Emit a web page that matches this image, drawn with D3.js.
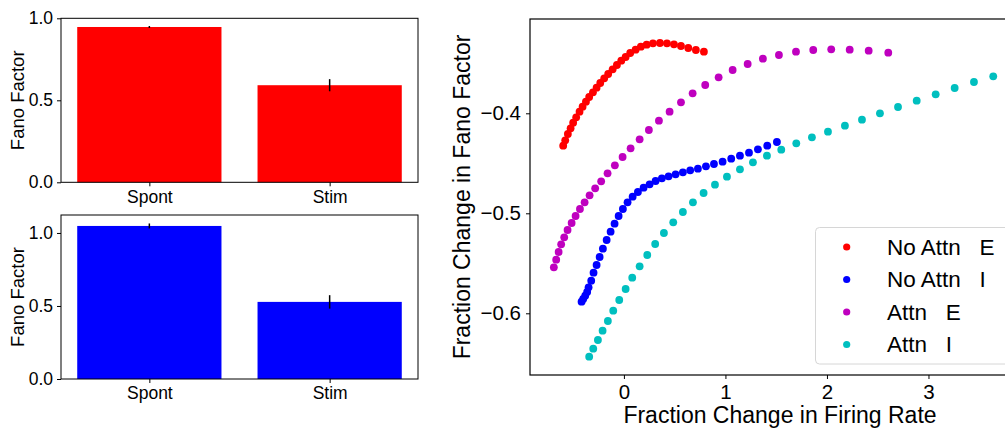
<!DOCTYPE html>
<html>
<head>
<meta charset="utf-8">
<script src="https://cdn.jsdelivr.net/npm/d3@7"></script>
<style>
  html, body { margin: 0; padding: 0; background: #fff; }
  svg { display: block; }
  text { font-family: "Liberation Sans", Arial, sans-serif; fill: #000; }
  .legend-text { white-space: pre; }
</style>
</head>
<body>
<svg id="chart" width="1005" height="428"></svg>
<script>
// ---- Bar panels: Fano factor for spontaneous vs stimulus-driven activity ----
const conditions = ["Spont", "Stim"];
const fanoE = [0.947, 0.592];
const fanoEErr = [0.006, 0.037];
const fanoI = [1.048, 0.528];
const fanoIErr = [0.017, 0.046];
const barTicksE = [0.0, 0.5, 1.0];
const barTicksI = [0.0, 0.5, 1.0];

// ---- Scatter panel: fraction change in firing rate vs fraction change in Fano factor ----
const seriesNames = ["No Attn   E", "No Attn   I", "Attn   E", "Attn   I"];
const seriesColors = ["#ff0000", "#0000ff", "#bf00bf", "#00bfbf"];

const noAttnE_rate = [-0.598, -0.578, -0.552, -0.525, -0.500, -0.470, -0.437, -0.407, -0.374, -0.342,
  -0.305, -0.269, -0.233, -0.194, -0.155, -0.111, -0.069, -0.026, 0.017, 0.062,
  0.115, 0.167, 0.224, 0.286, 0.355, 0.424, 0.493, 0.562, 0.634, 0.709, 0.788];
const noAttnE_fano = [-0.4324, -0.4270, -0.4207, -0.4150, -0.4094, -0.4040, -0.3984, -0.3934, -0.3884, -0.3837,
  -0.3790, -0.3744, -0.3697, -0.3650, -0.3607, -0.3560, -0.3517, -0.3474, -0.3437, -0.3397,
  -0.3364, -0.3334, -0.3314, -0.3300, -0.3297, -0.3300, -0.3310, -0.3327, -0.3347, -0.3367, -0.3384];

const noAttnI_rate = [-0.417, -0.401, -0.381, -0.362, -0.348, -0.322, -0.299, -0.269, -0.239, -0.207,
  -0.170, -0.131, -0.092, -0.052, -0.010, 0.036, 0.086, 0.138, 0.194, 0.253,
  0.312, 0.374, 0.440, 0.509, 0.581, 0.653, 0.729, 0.808, 0.887, 0.972,
  1.057, 1.143, 1.232, 1.320, 1.412, 1.507];
const noAttnI_fano = [-0.5884, -0.5857, -0.5824, -0.5787, -0.5740, -0.5674, -0.5594, -0.5517, -0.5437, -0.5354,
  -0.5267, -0.5184, -0.5104, -0.5027, -0.4957, -0.4890, -0.4834, -0.4787, -0.4744, -0.4710,
  -0.4677, -0.4650, -0.4630, -0.4610, -0.4590, -0.4570, -0.4554, -0.4530, -0.4507, -0.4484,
  -0.4454, -0.4424, -0.4394, -0.4360, -0.4324, -0.4287];

const attnE_rate = [-0.690, -0.667, -0.643, -0.618, -0.588, -0.555, -0.515, -0.476, -0.433, -0.387,
  -0.338, -0.283, -0.224, -0.161, -0.089, -0.013, 0.066, 0.155, 0.246, 0.345,
  0.450, 0.562, 0.677, 0.801, 0.933, 1.071, 1.219, 1.369, 1.527, 1.695,
  1.865, 2.042, 2.224, 2.411, 2.604];
const attnE_fano = [-0.5540, -0.5464, -0.5387, -0.5310, -0.5240, -0.5167, -0.5097, -0.5027, -0.4957, -0.4890,
  -0.4820, -0.4750, -0.4680, -0.4600, -0.4520, -0.4437, -0.4350, -0.4260, -0.4167, -0.4074,
  -0.3984, -0.3890, -0.3800, -0.3717, -0.3640, -0.3567, -0.3507, -0.3454, -0.3417, -0.3384,
  -0.3367, -0.3360, -0.3364, -0.3374, -0.3394];

const attnI_rate = [-0.342, -0.302, -0.256, -0.210, -0.158, -0.105, -0.046, 0.017, 0.082, 0.155,
  0.230, 0.308, 0.394, 0.486, 0.581, 0.680, 0.785, 0.897, 1.015, 1.143,
  1.271, 1.409, 1.550, 1.698, 1.852, 2.010, 2.177, 2.345, 2.522, 2.700,
  2.884, 3.071, 3.258, 3.448, 3.638];
const attnI_fano = [-0.6434, -0.6354, -0.6267, -0.6174, -0.6077, -0.5974, -0.5867, -0.5757, -0.5644, -0.5530,
  -0.5417, -0.5307, -0.5197, -0.5090, -0.4987, -0.4890, -0.4797, -0.4714, -0.4634, -0.4560,
  -0.4490, -0.4424, -0.4364, -0.4300, -0.4240, -0.4184, -0.4124, -0.4064, -0.4000, -0.3937,
  -0.3874, -0.3810, -0.3747, -0.3687, -0.3630];

const scatterXTicks = [0, 1, 2, 3];
const scatterYTicks = [-0.6, -0.5, -0.4];

const svg = d3.select("#chart");
svg.append("rect").attr("width", 1005).attr("height", 428).attr("fill", "#fff");

const minus = s => s.replace("-", "\u2212");

// Draw one bar panel with error bars
function barPanel(values, errs, yMax, yTicks, color, box) {
  const g = svg.append("g");
  const x = d3.scaleLinear().domain([-0.49, 1.49]).range([box.left, box.right]);
  const y = d3.scaleLinear().domain([0, yMax]).range([box.bottom, box.top]);
  const bw = x(0.8) - x(0);

  g.selectAll("rect.bar").data(values).join("rect")
    .attr("class", "bar")
    .attr("x", (d, i) => x(i) - bw / 2)
    .attr("width", bw)
    .attr("y", d => y(d))
    .attr("height", d => y(0) - y(d))
    .attr("fill", color);

  g.selectAll("line.err").data(values).join("line")
    .attr("class", "err")
    .attr("x1", (d, i) => x(i)).attr("x2", (d, i) => x(i))
    .attr("y1", (d, i) => y(d - errs[i])).attr("y2", (d, i) => y(d + errs[i]))
    .attr("stroke", "#000").attr("stroke-width", 1.5);

  // frame
  g.append("rect")
    .attr("x", box.left).attr("y", box.top)
    .attr("width", box.right - box.left).attr("height", box.bottom - box.top)
    .attr("fill", "none").attr("stroke", "#000").attr("stroke-width", 1);

  const yAxis = d3.axisLeft(y).tickValues(yTicks).tickFormat(d3.format(".1f"))
    .tickSizeInner(4).tickSizeOuter(0).tickPadding(4);
  const ya = g.append("g").attr("transform", `translate(${box.left},0)`).call(yAxis);
  ya.select(".domain").remove();
  ya.selectAll("text").attr("font-size", 17.5).attr("font-family", "Liberation Sans, Arial, sans-serif");

  const xAxis = d3.axisBottom(x).tickValues([0, 1]).tickFormat(i => conditions[i])
    .tickSizeInner(4).tickSizeOuter(0).tickPadding(4);
  const xa = g.append("g").attr("transform", `translate(0,${box.bottom})`).call(xAxis);
  xa.select(".domain").remove();
  xa.selectAll("text").attr("font-size", 17.5).attr("font-family", "Liberation Sans, Arial, sans-serif");

  g.append("text")
    .attr("transform", `translate(24,${(box.top + box.bottom) / 2}) rotate(-90)`)
    .attr("text-anchor", "middle")
    .attr("font-size", 18.5)
    .text("Fano Factor");
}

barPanel(fanoE, fanoEErr, 1.0, barTicksE, "#ff0000", { left: 61, right: 418, top: 18.3, bottom: 182.3 });
barPanel(fanoI, fanoIErr, 1.123, barTicksI, "#0000ff", { left: 61, right: 418, top: 215, bottom: 379 });

// ---- Scatter panel ----
const sBox = { left: 530, right: 1030, top: 19, bottom: 375 };
const sx = d3.scaleLinear().domain([-0.925, 4.0]).range([sBox.left, sBox.right]);
const sy = d3.scaleLinear().domain([-0.6617, -0.3057]).range([sBox.bottom, sBox.top]);

const series = [
  { rate: noAttnE_rate, fano: noAttnE_fano },
  { rate: noAttnI_rate, fano: noAttnI_fano },
  { rate: attnE_rate, fano: attnE_fano },
  { rate: attnI_rate, fano: attnI_fano }
];

const sg = svg.append("g");
series.forEach((s, k) => {
  sg.append("g").selectAll("circle")
    .data(s.rate.map((r, i) => [r, s.fano[i]]))
    .join("circle")
    .attr("cx", d => sx(d[0]))
    .attr("cy", d => sy(d[1]))
    .attr("r", 3.9)
    .attr("fill", seriesColors[k]);
});

sg.append("rect")
  .attr("x", sBox.left).attr("y", sBox.top)
  .attr("width", sBox.right - sBox.left).attr("height", sBox.bottom - sBox.top)
  .attr("fill", "none").attr("stroke", "#000").attr("stroke-width", 1.2);

const sxa = sg.append("g").attr("transform", `translate(0,${sBox.bottom})`)
  .call(d3.axisBottom(sx).tickValues(scatterXTicks).tickFormat(d3.format("d"))
    .tickSizeInner(4).tickSizeOuter(0).tickPadding(5));
sxa.select(".domain").remove();
sxa.selectAll("text").attr("font-size", 20.5).attr("font-family", "Liberation Sans, Arial, sans-serif");

const sya = sg.append("g").attr("transform", `translate(${sBox.left},0)`)
  .call(d3.axisLeft(sy).tickValues(scatterYTicks).tickFormat(d => minus(d3.format(".1f")(d)))
    .tickSizeInner(4).tickSizeOuter(0).tickPadding(5));
sya.select(".domain").remove();
sya.selectAll("text").attr("font-size", 20.5).attr("font-family", "Liberation Sans, Arial, sans-serif");

sg.append("text")
  .attr("x", (sBox.left + sBox.right) / 2).attr("y", 423)
  .attr("text-anchor", "middle").attr("font-size", 23)
  .text("Fraction Change in Firing Rate");

sg.append("text")
  .attr("transform", `translate(470,${(sBox.top + sBox.bottom) / 2}) rotate(-90)`)
  .attr("text-anchor", "middle").attr("font-size", 23)
  .text("Fraction Change in Fano Factor");

// legend
const lg = svg.append("g");
lg.append("rect")
  .attr("x", 815.5).attr("y", 227.5).attr("width", 205).attr("height", 136.5)
  .attr("rx", 4).attr("fill", "#fff").attr("fill-opacity", 0.8)
  .attr("stroke", "#d6d6d6").attr("stroke-width", 1);
const rowY = [247, 279.5, 312, 344.5];
seriesNames.forEach((name, k) => {
  lg.append("circle").attr("cx", 846.7).attr("cy", rowY[k]).attr("r", 3.6).attr("fill", seriesColors[k]);
  lg.append("text").attr("class", "legend-text")
    .attr("x", 887).attr("y", rowY[k]).attr("dy", "0.35em")
    .attr("font-size", 22.5)
    .text(name);
});
</script>
</body>
</html>
